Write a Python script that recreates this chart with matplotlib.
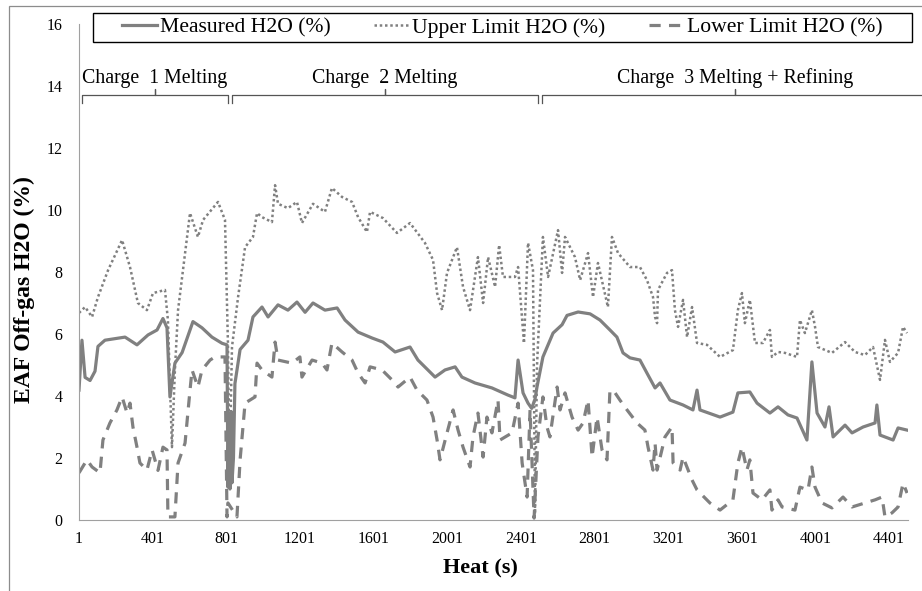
"""EAF off-gas H2O: measured vs. upper/lower limits over one heat."""
import matplotlib
matplotlib.use("Agg")
import matplotlib.pyplot as plt
from matplotlib.patches import Rectangle

plt.rcParams["font.family"] = ["Liberation Serif", "DejaVu Serif"]

GREY = "#808080"

# ---- data (time in s, H2O in %) ----
meas_t = [1, 17, 34, 61, 88, 104, 142, 251, 316, 376, 425, 457, 479, 495, 522,
          561, 620, 669, 723, 778, 805, 810, 815, 821, 827, 832, 840, 848, 876,
          919, 946, 995, 1028, 1082, 1136, 1185, 1229, 1272, 1337, 1403, 1446,
          1517, 1593, 1652, 1718, 1799, 1842, 1935, 1989, 2044, 2081, 2152,
          2244, 2331, 2369, 2386, 2413, 2440, 2460, 2478, 2489, 2521, 2576,
          2625, 2652, 2712, 2777, 2831, 2885, 2923, 2956, 2994, 3048, 3086,
          3130, 3157, 3211, 3282, 3336, 3358, 3374, 3483, 3553, 3580, 3645,
          3684, 3754, 3798, 3852, 3901, 3955, 3982, 4010, 4053, 4075, 4097,
          4162, 4200, 4260, 4325, 4335, 4352, 4423, 4450, 4499]
meas_h2o = [4.19, 5.8, 4.6, 4.5, 4.8, 5.6, 5.8, 5.9, 5.65, 5.97, 6.13, 6.5, 6.2,
            3.97, 5.06, 5.4, 6.4, 6.2, 5.9, 5.7, 5.65, 1.06, 3.0, 1.0, 3.5, 1.2,
            2.0, 4.4, 5.5, 5.8, 6.55, 6.87, 6.55, 6.94, 6.77, 7.03, 6.7, 7.0,
            6.77, 6.84, 6.45, 6.06, 5.87, 5.74, 5.42, 5.58, 5.16, 4.61, 4.84,
            4.94, 4.61, 4.42, 4.26, 4.03, 3.94, 5.16, 4.1, 3.77, 3.6, 3.9, 4.3,
            5.26, 6.03, 6.3, 6.6, 6.71, 6.65, 6.45, 6.13, 5.9, 5.39, 5.23, 5.16,
            4.74, 4.26, 4.42, 3.87, 3.71, 3.55, 4.19, 3.55, 3.32, 3.48, 4.1,
            4.13, 3.77, 3.45, 3.65, 3.39, 3.29, 2.58, 5.1, 3.45, 3.0, 3.65,
            2.68, 3.06, 2.81, 3.0, 3.13, 3.71, 2.74, 2.58, 2.97, 2.9]

upper_t = [1, 34, 72, 104, 159, 235, 278, 321, 370, 403, 468, 484, 506, 522,
           539, 588, 604, 647, 675, 756, 794, 810, 818, 832, 865, 903, 946, 968,
           995, 1049, 1066, 1082, 1136, 1185, 1212, 1272, 1337, 1375, 1430,
           1484, 1517, 1565, 1582, 1652, 1728, 1799, 1880, 1924, 1946, 1973,
           2000, 2054, 2087, 2125, 2168, 2196, 2223, 2261, 2283, 2304, 2369,
           2386, 2418, 2440, 2467, 2478, 2489, 2521, 2549, 2603, 2625, 2641,
           2695, 2723, 2766, 2793, 2820, 2874, 2896, 2929, 2994, 3048, 3086,
           3119, 3130, 3141, 3146, 3195, 3222, 3238, 3255, 3282, 3304, 3331,
           3358, 3412, 3483, 3553, 3580, 3602, 3618, 3645, 3673, 3716, 3754,
           3765, 3798, 3836, 3901, 3917, 3944, 3982, 3999, 4015, 4091, 4162,
           4216, 4270, 4314, 4352, 4379, 4406, 4450, 4477, 4499]
upper_h2o = [6.68, 6.87, 6.55, 7.19, 8.06, 9.03, 8.16, 7.0, 6.77, 7.32, 7.42,
             6.45, 2.35, 4.84, 6.77, 9.13, 9.9, 9.13, 9.68, 10.26, 9.68, 5.7,
             1.5, 5.58, 7.19, 8.8, 9.13, 9.9, 9.77, 9.61, 10.8, 10.2, 10.06,
             10.26, 9.58, 10.2, 9.94, 10.71, 10.42, 10.26, 9.77, 9.29, 9.94,
             9.74, 9.26, 9.58, 8.94, 8.39, 7.32, 6.77, 7.97, 8.8, 7.52, 6.77,
             8.48, 7.0, 8.48, 7.52, 8.87, 7.84, 7.84, 8.16, 5.7, 8.94, 8.06, 0.2,
             5.0, 9.13, 7.84, 9.35, 7.97, 9.13, 8.48, 7.74, 8.61, 7.19, 8.29,
             6.87, 9.13, 8.61, 8.16, 8.16, 7.74, 7.19, 6.55, 6.35, 7.42, 7.97,
             8.06, 6.77, 6.23, 7.1, 5.9, 6.87, 5.71, 5.65, 5.26, 5.48, 6.77,
             7.32, 6.35, 7.1, 5.71, 5.71, 6.13, 5.26, 5.42, 5.39, 5.26, 6.45,
             6.03, 6.77, 6.23, 5.58, 5.39, 5.74, 5.42, 5.32, 5.58, 4.52, 5.81,
             5.1, 5.39, 6.23, 6.03]

lower_t = [1, 44, 72, 115, 131, 169, 207, 235, 262, 278, 294, 316, 332, 370,
           398, 430, 457, 479, 484, 522, 539, 577, 604, 615, 647, 669, 713, 740,
           794, 805, 810, 859, 876, 903, 957, 968, 995, 1049, 1066, 1082, 1158,
           1201, 1212, 1267, 1321, 1348, 1375, 1430, 1484, 1517, 1555, 1582,
           1647, 1701, 1734, 1799, 1837, 1891, 1924, 1946, 1962, 2000, 2033,
           2060, 2087, 2125, 2141, 2168, 2196, 2217, 2244, 2277, 2288, 2353,
           2386, 2408, 2435, 2451, 2473, 2494, 2521, 2543, 2559, 2598, 2614,
           2641, 2679, 2712, 2739, 2766, 2788, 2815, 2842, 2869, 2885, 2913,
           2939, 2978, 3032, 3075, 3092, 3119, 3130, 3141, 3184, 3222, 3228,
           3266, 3282, 3331, 3358, 3428, 3483, 3553, 3580, 3602, 3629, 3645,
           3662, 3711, 3754, 3765, 3798, 3820, 3890, 3917, 3961, 3982, 3999,
           4037, 4091, 4151, 4200, 4270, 4325, 4363, 4379, 4417, 4450, 4477,
           4499]
lower_h2o = [1.52, 1.94, 1.71, 1.52, 2.58, 3.13, 3.55, 3.97, 3.45, 3.77, 3.0,
             2.35, 1.84, 1.61, 2.26, 1.6, 2.35, 2.26, 0.1, 0.1, 1.84, 2.48, 4.19,
             4.84, 4.29, 4.84, 5.16, 5.26, 5.26, 0.1, 0.55, 0.1, 1.94, 3.77,
             3.97, 5.06, 4.84, 4.61, 5.74, 5.16, 5.06, 5.26, 4.61, 5.16, 5.06,
             4.84, 5.71, 5.42, 5.16, 4.74, 4.42, 4.94, 4.84, 4.52, 4.29, 4.61,
             4.19, 3.87, 3.32, 2.58, 1.94, 2.81, 3.55, 2.9, 2.35, 1.71, 2.68,
             3.45, 2.03, 3.32, 2.81, 3.87, 2.58, 2.81, 3.77, 1.84, 0.74, 3.55,
             0.06, 2.68, 3.97, 3.0, 2.68, 4.29, 3.55, 4.1, 3.32, 2.9, 3.13, 3.87,
             2.03, 3.32, 2.26, 1.94, 4.19, 4.1, 3.87, 3.55, 3.13, 2.9, 2.35,
             1.61, 2.48, 1.61, 2.68, 3.0, 1.84, 1.61, 2.03, 1.29, 0.97, 0.55,
             0.32, 0.65, 1.84, 2.35, 1.61, 1.94, 0.87, 0.65, 0.97, 0.32, 0.65,
             0.42, 0.32, 1.06, 0.97, 1.71, 1.06, 0.55, 0.39, 0.74, 0.42, 0.55,
             0.65, 0.74, 0.1, 0.23, 0.42, 1.19, 0.87]

x_ticks = [1, 401, 801, 1201, 1601, 2001, 2401, 2801, 3201, 3601, 4001, 4401]
y_ticks = [0, 2, 4, 6, 8, 10, 12, 14, 16]

# stage brackets: label, start, middle, end (s)
stage_names = ["Charge  1 Melting", "Charge  2 Melting",
               "Charge  3 Melting + Refining"]
stage_start = [17, 832, 2516]
stage_mid = [414, 1663, 3565]
stage_end = [810, 2494, 4590]


fig = plt.figure(figsize=(9.22, 5.91), dpi=100)
# outer chart frame (only left/top edges fall inside the image)
fig.patches.append(Rectangle((9 / 922, -0.1), 1.2, 1 - 6 / 591 + 0.1,
                             transform=fig.transFigure, fill=False,
                             edgecolor="#8c8c8c", linewidth=0.9))
ax = fig.add_axes([79 / 922, 71 / 591, (908 - 79) / 922, (520 - 24) / 591])

ax.plot(meas_t, meas_h2o, color=GREY, lw=2.3, label="Measured H2O (%)")
ax.plot(upper_t, upper_h2o, color=GREY, lw=1.8, linestyle=(0, (1, 1.1)),
        label="Upper Limit H2O (%)")
ax.plot(lower_t, lower_h2o, color=GREY, lw=2.3, linestyle=(0, (3.5, 2.6)),
        label="Lower Limit H2O (%)")

ax.set_xlim(1, 4504)
ax.set_ylim(0, 16)
ax.set_xticks(x_ticks)
ax.set_yticks(y_ticks)
ax.tick_params(length=0, labelsize=11.5)
ax.tick_params(axis="x", pad=8)
ax.tick_params(axis="y", pad=12)
for s in ("top", "right"):
    ax.spines[s].set_visible(False)
ax.spines["left"].set_color("#a0a0a0")
ax.spines["bottom"].set_color("#a0a0a0")
ax.set_xlabel("Heat (s)", fontsize=16, fontweight="bold")
ax.set_ylabel("EAF Off-gas H2O (%)", fontsize=17, fontweight="bold")
ax.xaxis.set_label_coords(0.484, -0.077)
ax.yaxis.set_label_coords(-0.053, 0.464)

for name, a, m, b in zip(stage_names, stage_start, stage_mid, stage_end):
    xs = [a, a, m, m, m, b, b]
    ys = [13.45, 13.7, 13.7, 13.9, 13.7, 13.7, 13.45]
    ax.plot(xs, ys, color="#555555", lw=0.9, clip_on=False)
    ax.text(m, 13.95, name, ha="center", va="bottom", fontsize=14.3)

# legend box spans the plot top; entries centred inside it
fig.patches.append(Rectangle((93 / 922, 1 - 42 / 591), (912 - 93) / 922, 29 / 591,
                             transform=fig.transFigure, fill=False,
                             edgecolor="black", linewidth=1.0))
fig.legend(loc="center", ncol=3, bbox_to_anchor=((93 + 912) / 2 / 922, 1 - 27.5 / 591),
           fontsize=15.6, frameon=False, handlelength=1.6, handletextpad=0.15,
           columnspacing=2.0)

fig.savefig("out.png", dpi=100)
